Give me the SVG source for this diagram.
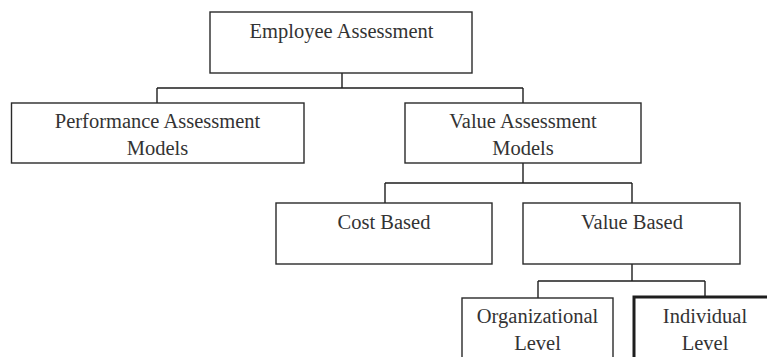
<svg xmlns="http://www.w3.org/2000/svg" width="767" height="357" viewBox="0 0 767 357">
  <style>
    .box { fill: #ffffff; stroke: #2a2a2a; stroke-width: 1.4; }
    .box-bold { fill: #ffffff; stroke: #1e1e1e; stroke-width: 3; }
    .wire { fill: none; stroke: #1e1e1e; stroke-width: 1.4; }
    .label { font-family: "Liberation Serif", "Times New Roman", serif; font-size: 20.5px; fill: #333333; text-anchor: middle; }
  </style>
  <rect width="767" height="357" fill="#ffffff"/>

  <g id="connectors">
    <!-- Employee Assessment to its two model families -->
    <path class="wire" d="M342 73 V88 M157 88 H523 M157 88 V103 M523 88 V103"/>
    <!-- Value Assessment Models to cost / value based -->
    <path class="wire" d="M523 163 V183 M385 183 H632 M385 183 V203 M632 183 V203"/>
    <!-- Value Based to organizational / individual level -->
    <path class="wire" d="M632 264 V281 M538 281 H705 M538 281 V298 M705 281 V297"/>
  </g>

  <g id="employee-assessment">
    <rect class="box" x="210" y="12" width="262" height="61"/>
    <text class="label" x="341.5" y="38">Employee Assessment</text>
  </g>

  <g id="performance-assessment-models">
    <rect class="box" x="11.5" y="103" width="292.5" height="60"/>
    <text class="label" x="157.5" y="128">Performance Assessment</text>
    <text class="label" x="157.5" y="155">Models</text>
  </g>

  <g id="value-assessment-models">
    <rect class="box" x="405" y="103" width="236" height="60"/>
    <text class="label" x="523" y="128">Value Assessment</text>
    <text class="label" x="523" y="155">Models</text>
  </g>

  <g id="cost-based">
    <rect class="box" x="276" y="203" width="216" height="61"/>
    <text class="label" x="384" y="229">Cost Based</text>
  </g>

  <g id="value-based">
    <rect class="box" x="523" y="203" width="217" height="61"/>
    <text class="label" x="632" y="229">Value Based</text>
  </g>

  <g id="organizational-level">
    <rect class="box" x="462" y="298" width="151" height="80"/>
    <text class="label" x="537.5" y="323">Organizational</text>
    <text class="label" x="537.5" y="350">Level</text>
  </g>

  <g id="individual-level">
    <rect class="box-bold" x="634" y="297" width="150" height="80"/>
    <text class="label" x="705" y="323">Individual</text>
    <text class="label" x="705" y="350">Level</text>
  </g>
</svg>
